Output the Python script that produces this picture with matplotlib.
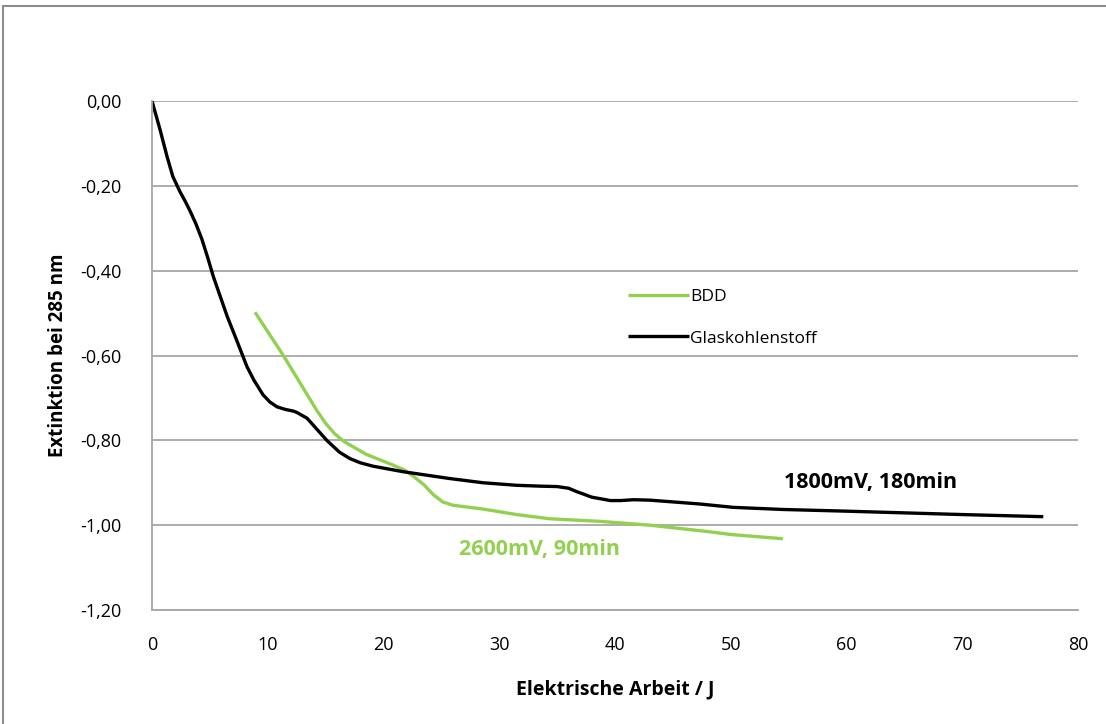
import matplotlib.pyplot as plt
from matplotlib.patches import Rectangle
from matplotlib.ticker import FuncFormatter, MultipleLocator

plt.rcParams["font.family"] = ["Open Sans", "DejaVu Sans"]

# Glaskohlenstoff (1800 mV, 180 min)
gc_work = [0, 0.7, 1.3, 1.8, 2.4, 2.9, 3.3, 3.8, 4.3, 4.8, 5.3, 6.5, 7.3,
           8.2, 8.8, 9.6, 10.2, 10.8, 11.5, 12.2, 12.5, 13.4, 15.1, 16.2,
           17.1, 18.0, 19.1, 21.7, 25.7, 28.6, 31.5, 33.5, 35.0, 36.0, 36.7,
           38.0, 39.6, 40.5, 41.6, 43.0, 47.3, 50.2, 54.5, 60.0, 65.0, 70.0,
           77.0]
gc_ext = [0.0, -0.068, -0.131, -0.178, -0.213, -0.238, -0.260, -0.290,
          -0.325, -0.368, -0.414, -0.508, -0.563, -0.626, -0.658, -0.693,
          -0.710, -0.721, -0.727, -0.731, -0.734, -0.748, -0.800, -0.828,
          -0.843, -0.853, -0.861, -0.874, -0.890, -0.900, -0.906, -0.908,
          -0.909, -0.913, -0.921, -0.934, -0.942, -0.942, -0.940, -0.941,
          -0.950, -0.958, -0.963, -0.967, -0.971, -0.975, -0.980]

# BDD (2600 mV, 90 min)
bdd_work = [8.9, 11.3, 12.8, 14.2, 15.0, 15.8, 16.6, 18.5, 20.8, 21.8,
            22.6, 23.5, 24.3, 25.1, 26.0, 28.6, 31.5, 34.4, 38.7, 43.0,
            48.0, 50.0, 54.5]
bdd_ext = [-0.498, -0.598, -0.665, -0.728, -0.760, -0.785, -0.803, -0.833,
           -0.858, -0.870, -0.885, -0.905, -0.928, -0.945, -0.953, -0.962,
           -0.975, -0.985, -0.991, -1.000, -1.015, -1.022, -1.032]

GREEN = "#92D050"
GRID = "#a6a6a6"

fig = plt.figure(figsize=(11.06, 7.24), dpi=100)
ax = fig.add_axes([152 / 1106, 1 - 610 / 724, 926 / 1106, 509 / 724])

ax.plot(bdd_work, bdd_ext, color=GREEN, lw=2.4, label="BDD",
        solid_capstyle="butt", solid_joinstyle="round")
ax.plot(gc_work, gc_ext, color="black", lw=2.4, label="Glaskohlenstoff",
        solid_capstyle="butt", solid_joinstyle="round")

ax.set_xlim(0, 80)
ax.set_ylim(-1.2, 0)
ax.xaxis.set_major_locator(MultipleLocator(10))
ax.yaxis.set_major_locator(MultipleLocator(0.2))
ax.yaxis.set_major_formatter(
    FuncFormatter(lambda v, p: f"{v:.2f}".replace(".", ",").replace("-0,00", "0,00"))
)
ax.tick_params(length=0, labelsize=13)
ax.tick_params(axis="y", pad=22)
ax.tick_params(axis="x", pad=19)

ax.grid(axis="y", color=GRID, lw=1.3)
ax.set_axisbelow(True)
for side in ["top", "right"]:
    ax.spines[side].set_visible(False)
for side in ["left", "bottom"]:
    ax.spines[side].set_color(GRID)
    ax.spines[side].set_linewidth(1.3)

ax.set_xlabel("Elektrische Arbeit / J", fontsize=14, fontweight="bold")
ax.set_ylabel("Extinktion bei 285 nm", fontsize=13.5, fontweight="bold")
ax.xaxis.set_label_coords(0.5, -0.157)
ax.yaxis.set_label_coords(-0.101, 0.5)
ax.xaxis.label.set_va("center")
ax.yaxis.label.set_va("center")

ax.text(33.5, -1.057, "2600mV, 90min", color=GREEN, fontsize=15.5,
        fontweight="bold", ha="center", va="center")
ax.text(54.6, -0.90, "1800mV, 180min", color="black", fontsize=15.5,
        fontweight="bold", ha="left", va="center")

ax.legend(loc="center left", bbox_to_anchor=(0.497, 0.574), frameon=False,
          fontsize=12.5, handlelength=3.5, handletextpad=0.1, labelspacing=1.45)

# chart area frame
fig.patches.append(Rectangle((3 / 1106, -0.05), 1.1, 1 - 6 / 724 + 0.05,
                             transform=fig.transFigure, fill=False,
                             edgecolor="#8c8c8c", lw=1.5))

fig.savefig("out.png", dpi=100)
